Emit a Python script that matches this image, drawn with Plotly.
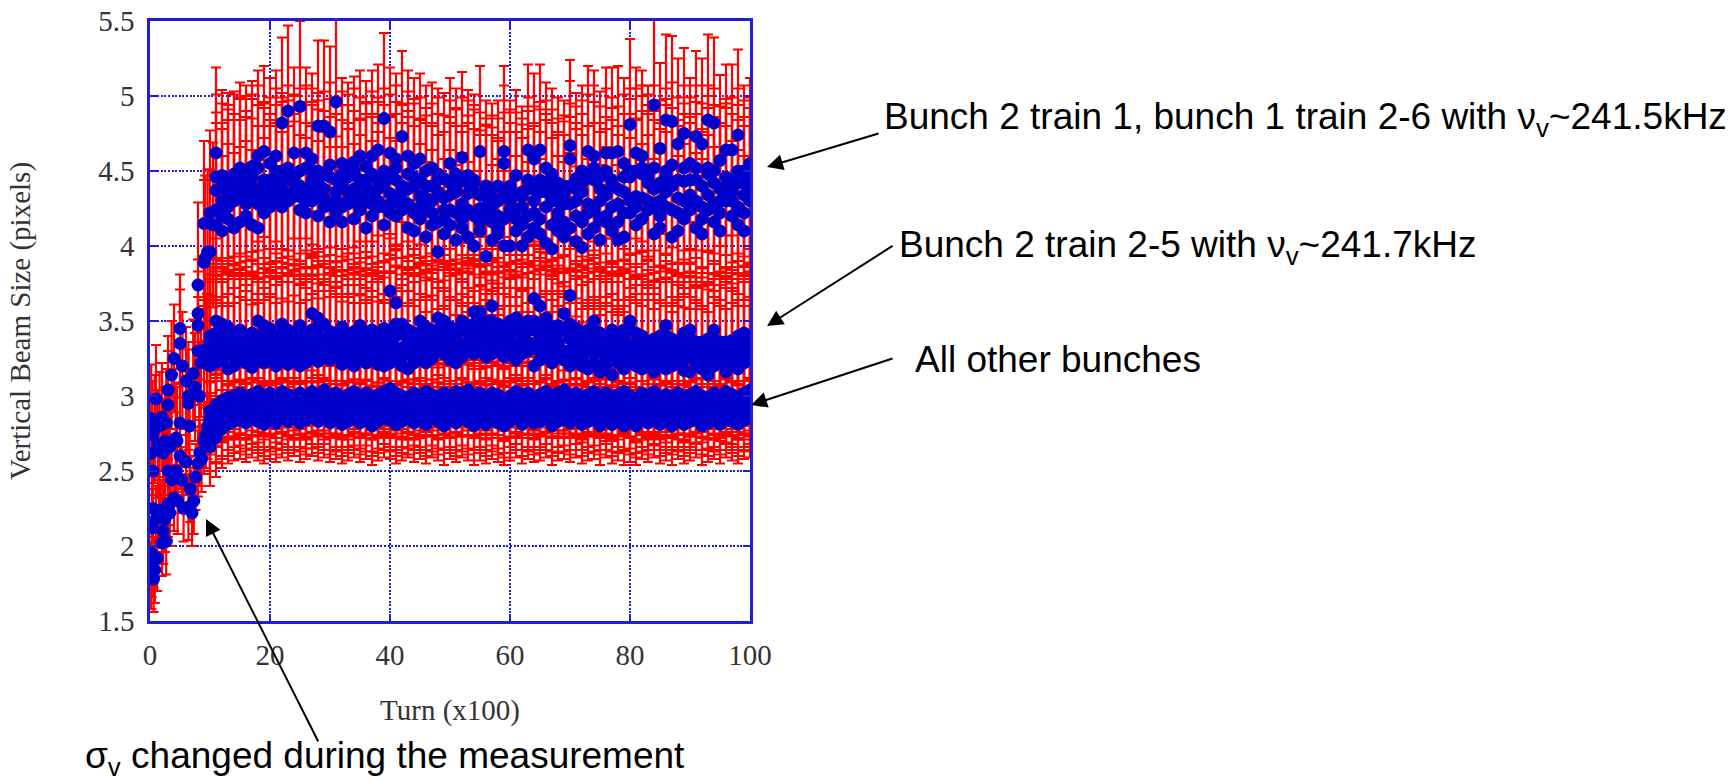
import plotly.graph_objects as go

turns = [0,1,2,3,4,5,6,7,8,9,10,11,12,13,14,15,16,17,18,19,20,21,22,23,24,25,26,27,28,29,30,
         31,32,33,34,35,36,37,38,39,40,41,42,43,44,45,46,47,48,49,50,51,52,53,54,55,56,57,58,59,60,
         61,62,63,64,65,66,67,68,69,70,71,72,73,74,75,76,77,78,79,80,81,82,83,84,85,86,87,88,89,90,
         91,92,93,94,95,96,97,98,99,100]

# Upper group, turns 11..100
upper_a = [4.62,4.47,4.45,4.44,4.52,4.50,4.53,4.60,4.63,4.55,
           4.60,4.82,4.90,4.62,4.93,4.62,4.58,4.80,4.80,4.76,
           4.96,4.55,4.52,4.56,4.60,4.53,4.60,4.64,4.85,4.62,
           4.58,4.73,4.60,4.55,4.58,4.50,4.52,4.48,4.45,4.55,
           4.48,4.59,4.47,4.44,4.63,4.40,4.38,4.40,4.63,4.40,
           4.47,4.36,4.64,4.58,4.64,4.52,4.48,4.42,4.40,4.67,
           4.45,4.50,4.63,4.60,4.46,4.62,4.62,4.63,4.55,4.81,
           4.62,4.60,4.50,4.94,4.65,4.84,4.83,4.68,4.75,4.55,
           4.73,4.68,4.84,4.82,4.57,4.64,4.64,4.74,4.50,4.55]
upper_b = [4.37,4.30,4.42,4.36,4.32,4.38,4.33,4.28,4.44,4.36,
           4.42,4.50,4.45,4.36,4.40,4.30,4.44,4.50,4.38,4.46,
           4.36,4.42,4.30,4.38,4.33,4.44,4.36,4.30,4.42,4.35,
           4.44,4.30,4.38,4.46,4.33,4.40,4.30,4.36,4.24,4.34,
           4.40,4.28,4.35,4.42,4.25,4.33,4.27,4.20,4.55,4.30,
           4.24,4.33,4.38,4.30,4.44,4.36,4.30,4.22,4.35,4.58,
           4.30,4.36,4.28,4.44,4.30,4.34,4.40,4.28,4.36,4.46,
           4.33,4.48,4.42,4.38,4.30,4.46,4.40,4.32,4.43,4.34,
           4.44,4.26,4.48,4.42,4.30,4.46,4.36,4.42,4.34,4.40]
upper_c = [4.14,4.10,4.18,4.12,4.16,4.20,4.14,4.12,4.22,4.30,
           4.32,4.26,4.30,4.33,4.24,4.22,4.30,4.20,4.26,4.16,
           4.23,4.16,4.28,4.18,4.24,4.12,4.20,4.26,4.14,4.22,
           4.20,4.24,4.12,4.10,4.18,4.06,4.14,3.96,4.08,4.14,
           4.04,4.12,4.06,4.00,4.10,3.93,4.04,4.08,4.00,4.00,
           4.10,4.00,4.06,4.12,4.08,4.02,3.98,4.10,4.06,4.12,
           4.03,3.99,4.08,4.12,4.04,4.16,4.10,4.04,4.06,4.22,
           4.14,4.18,4.24,4.08,4.12,4.26,4.06,4.10,4.18,4.26,
           4.12,4.08,4.24,4.16,4.10,4.30,4.20,4.14,4.10,4.30]
upper_d = [4.24,4.20,4.26,4.30,4.40,4.28,4.40,4.36,4.34,4.26,
           4.36,4.38,4.34,4.42,4.33,4.38,4.36,4.33,4.32,4.28,
           4.30,4.26,4.36,4.32,4.26,4.30,4.28,4.38,4.26,4.28,
           4.30,4.36,4.28,4.22,4.26,4.24,4.22,4.16,4.18,4.24,
           4.22,4.18,4.24,4.20,4.16,4.22,4.16,4.12,4.18,4.24,
           4.18,4.14,4.20,4.22,4.18,4.26,4.14,4.18,4.16,4.28,
           4.20,4.16,4.22,4.24,4.18,4.20,4.26,4.16,4.22,4.30,
           4.26,4.32,4.30,4.26,4.20,4.36,4.24,4.22,4.30,4.24,
           4.30,4.18,4.34,4.28,4.22,4.34,4.30,4.26,4.22,4.34]
upper_e = [4.46,4.40,4.36,4.48,4.44,4.45,4.46,4.52,4.40,4.44,
           4.50,4.44,4.52,4.46,4.50,4.52,4.50,4.42,4.48,4.54,
           4.44,4.48,4.46,4.50,4.44,4.40,4.48,4.44,4.50,4.46,
           4.52,4.40,4.48,4.40,4.44,4.32,4.40,4.44,4.32,4.42,
           4.36,4.44,4.42,4.36,4.34,4.26,4.32,4.30,4.34,4.36,
           4.34,4.26,4.44,4.38,4.36,4.42,4.36,4.30,4.28,4.40,
           4.38,4.42,4.46,4.52,4.38,4.50,4.44,4.38,4.46,4.50,
           4.50,4.52,4.46,4.52,4.42,4.50,4.54,4.44,4.52,4.44,
           4.52,4.40,4.52,4.50,4.38,4.40,4.44,4.50,4.42,4.44]

# Middle group, turns 10..100
mid_a = [3.40,3.50,3.48,3.46,3.42,3.44,3.40,3.42,3.50,3.47,
         3.45,3.40,3.48,3.44,3.42,3.47,3.40,3.55,3.52,3.48,
         3.43,3.42,3.46,3.40,3.43,3.47,3.42,3.44,3.40,3.45,
         3.70,3.62,3.48,3.44,3.42,3.50,3.46,3.44,3.52,3.50,
         3.46,3.44,3.50,3.47,3.56,3.56,3.50,3.60,3.48,3.45,
         3.50,3.52,3.48,3.50,3.65,3.60,3.52,3.46,3.47,3.55,
         3.67,3.45,3.42,3.44,3.50,3.42,3.40,3.44,3.42,3.44,
         3.50,3.42,3.40,3.36,3.38,3.40,3.47,3.38,3.36,3.42,
         3.44,3.36,3.35,3.38,3.44,3.36,3.34,3.37,3.40,3.42,3.40]
mid_b = [3.30,3.34,3.30,3.36,3.32,3.38,3.28,3.34,3.30,3.36,
         3.33,3.28,3.36,3.30,3.38,3.32,3.30,3.35,3.40,3.32,
         3.36,3.30,3.34,3.28,3.36,3.32,3.38,3.30,3.34,3.33,
         3.36,3.40,3.32,3.38,3.30,3.36,3.33,3.38,3.30,3.40,
         3.34,3.38,3.32,3.36,3.42,3.40,3.36,3.44,3.36,3.40,
         3.38,3.34,3.42,3.36,3.44,3.38,3.40,3.34,3.36,3.30,
         3.38,3.34,3.28,3.36,3.32,3.38,3.30,3.35,3.30,3.36,
         3.32,3.28,3.34,3.30,3.26,3.32,3.30,3.36,3.28,3.30,
         3.34,3.27,3.30,3.25,3.32,3.28,3.30,3.26,3.32,3.30,3.34]
mid_c = [3.20,3.22,3.24,3.18,3.20,3.24,3.22,3.19,3.26,3.22,
         3.24,3.20,3.23,3.21,3.25,3.20,3.22,3.26,3.23,3.28,
         3.24,3.26,3.21,3.24,3.20,3.25,3.22,3.24,3.21,3.20,
         3.22,3.24,3.20,3.18,3.22,3.26,3.22,3.25,3.30,3.28,
         3.24,3.22,3.26,3.30,3.28,3.32,3.26,3.28,3.30,3.26,
         3.30,3.24,3.28,3.30,3.20,3.24,3.28,3.22,3.26,3.24,
         3.20,3.23,3.20,3.18,3.22,3.16,3.20,3.14,3.22,3.18,
         3.24,3.20,3.18,3.22,3.16,3.22,3.18,3.20,3.24,3.17,
         3.16,3.22,3.18,3.14,3.20,3.22,3.16,3.20,3.18,3.22,3.24]
mid_d = [3.36,3.42,3.38,3.42,3.38,3.30,3.36,3.40,3.38,3.42,
         3.38,3.36,3.42,3.38,3.34,3.40,3.36,3.44,3.46,3.38,
         3.40,3.36,3.40,3.34,3.38,3.42,3.34,3.38,3.36,3.39,
         3.44,3.48,3.42,3.40,3.36,3.42,3.40,3.34,3.44,3.44,
         3.40,3.34,3.44,3.42,3.48,3.48,3.44,3.50,3.42,3.36,
         3.44,3.44,3.36,3.44,3.50,3.46,3.46,3.40,3.42,3.44,
         3.48,3.40,3.36,3.40,3.44,3.36,3.36,3.40,3.36,3.40,
         3.44,3.36,3.38,3.34,3.32,3.36,3.40,3.34,3.32,3.38,
         3.38,3.32,3.36,3.32,3.38,3.32,3.36,3.32,3.36,3.36,3.38]
mid_e = [3.26,3.28,3.26,3.28,3.26,3.30,3.26,3.28,3.24,3.30,
         3.28,3.24,3.30,3.26,3.32,3.26,3.26,3.30,3.32,3.26,
         3.30,3.28,3.28,3.26,3.30,3.28,3.30,3.26,3.28,3.27,
         3.28,3.32,3.26,3.30,3.26,3.32,3.28,3.32,3.34,3.34,
         3.30,3.30,3.28,3.34,3.36,3.36,3.32,3.36,3.34,3.32,
         3.34,3.28,3.36,3.34,3.32,3.30,3.34,3.28,3.32,3.27,
         3.30,3.28,3.24,3.30,3.28,3.30,3.25,3.28,3.26,3.30,
         3.28,3.24,3.26,3.26,3.22,3.28,3.24,3.28,3.26,3.24,
         3.28,3.24,3.24,3.20,3.26,3.25,3.24,3.23,3.26,3.26,3.28]

# Lower group, turns 10..100
low_a = [2.90,2.94,2.97,2.99,3.00,3.02,2.99,3.01,3.03,3.00,
         3.02,2.99,3.03,3.01,2.99,3.02,3.00,3.03,3.01,3.04,
         3.00,3.02,2.99,3.01,3.03,3.00,3.02,2.99,3.01,3.03,
         3.05,3.02,3.00,2.99,3.02,3.00,3.03,3.01,2.99,3.02,
         3.00,3.03,3.01,3.04,3.00,3.02,2.99,3.02,3.01,2.98,
         3.00,3.03,3.01,3.02,2.99,3.01,3.03,3.00,3.02,3.04,
         3.00,3.02,2.99,3.01,3.03,3.00,3.02,2.98,3.01,3.03,
         3.00,2.98,3.02,3.00,3.03,2.99,3.01,3.00,3.02,2.98,
         3.01,3.03,3.00,2.99,3.02,3.00,3.03,3.01,2.99,3.02,3.04]
low_b = [2.80,2.85,2.88,2.90,2.92,2.93,2.91,2.94,2.92,2.90,
         2.93,2.91,2.94,2.92,2.90,2.93,2.91,2.95,2.92,2.94,
         2.91,2.93,2.90,2.92,2.94,2.91,2.93,2.90,2.92,2.94,
         2.93,2.90,2.92,2.91,2.94,2.92,2.90,2.93,2.91,2.94,
         2.92,2.90,2.93,2.91,2.94,2.92,2.90,2.93,2.91,2.89,
         2.92,2.94,2.90,2.93,2.91,2.92,2.94,2.90,2.92,2.93,
         2.91,2.94,2.90,2.92,2.93,2.91,2.94,2.90,2.92,2.93,
         2.91,2.89,2.93,2.91,2.94,2.90,2.92,2.91,2.93,2.90,
         2.92,2.94,2.91,2.90,2.93,2.91,2.94,2.92,2.90,2.93,2.94]
low_c = [2.66,2.72,2.78,2.81,2.83,2.84,2.82,2.85,2.83,2.81,
         2.84,2.82,2.85,2.83,2.86,2.82,2.84,2.86,2.83,2.85,
         2.82,2.84,2.81,2.83,2.85,2.82,2.84,2.80,2.83,2.85,
         2.84,2.81,2.83,2.85,2.82,2.84,2.81,2.85,2.83,2.80,
         2.84,2.82,2.85,2.83,2.80,2.83,2.81,2.84,2.82,2.80,
         2.83,2.85,2.81,2.84,2.82,2.83,2.85,2.80,2.83,2.84,
         2.82,2.85,2.81,2.83,2.84,2.80,2.85,2.81,2.83,2.80,
         2.82,2.80,2.84,2.82,2.85,2.81,2.83,2.80,2.84,2.81,
         2.83,2.85,2.80,2.82,2.84,2.81,2.85,2.83,2.81,2.84,2.85]
low_d = [2.72,2.78,2.82,2.86,2.88,2.89,2.87,2.90,2.88,2.86,
         2.88,2.87,2.90,2.88,2.86,2.88,2.87,2.90,2.88,2.90,
         2.86,2.88,2.86,2.88,2.89,2.87,2.89,2.85,2.87,2.90,
         2.88,2.86,2.88,2.87,2.89,2.88,2.86,2.89,2.87,2.86,
         2.88,2.86,2.89,2.87,2.86,2.88,2.86,2.89,2.87,2.84,
         2.88,2.90,2.86,2.88,2.86,2.88,2.90,2.85,2.88,2.89,
         2.86,2.90,2.86,2.88,2.89,2.86,2.90,2.85,2.88,2.86,
         2.87,2.84,2.88,2.86,2.90,2.86,2.88,2.86,2.88,2.86,
         2.88,2.90,2.86,2.86,2.88,2.86,2.90,2.88,2.86,2.88,2.90]
low_e = [2.85,2.90,2.93,2.95,2.96,2.98,2.95,2.98,2.98,2.95,
         2.98,2.96,2.99,2.97,2.95,2.98,2.96,2.99,2.97,2.99,
         2.96,2.98,2.95,2.97,2.99,2.96,2.98,2.95,2.97,2.99,
         2.98,2.96,2.96,2.95,2.98,2.96,2.98,2.97,2.95,2.98,
         2.96,2.97,2.97,2.98,2.96,2.98,2.95,2.98,2.96,2.94,
         2.96,2.99,2.96,2.98,2.95,2.97,2.99,2.96,2.97,2.99,
         2.96,2.98,2.95,2.97,2.98,2.96,2.98,2.94,2.97,2.98,
         2.96,2.94,2.98,2.96,2.99,2.95,2.97,2.96,2.98,2.94,
         2.97,2.99,2.96,2.95,2.98,2.96,2.99,2.97,2.95,2.98,2.99]

# Start of the measurement
early_low_x = [0.2,0.3,0.3,0.4,0.5,0.6,0.8,1.0,1.2,1.5,1.8,2.0,2.2,2.5,2.7,3.0,3.0,3.3,3.6,4.0,4.3,4.6,5.0,5.3,5.6,6.0,6.4,6.7,7.0,7.3,7.6,8.0,8.3,8.6,9.0,9.3,9.6]
early_low_y = [1.80,1.88,1.95,2.12,2.25,1.78,1.84,2.18,1.92,2.24,2.22,2.02,2.10,2.18,2.03,2.28,2.26,2.22,2.44,2.32,2.50,2.30,2.60,2.44,2.25,2.56,2.26,2.38,2.22,2.30,2.46,2.55,2.62,2.58,2.70,2.74,2.80]
early_mid_x = [0.2,0.3,0.4,0.5,0.8,1.0,1.3,1.6,2.0,2.2,2.5,2.7,3.0,3.0,3.0,3.3,3.6,4.0,4.3,4.5,5.0,5.0,5.0,5.4,6.0,6.4,6.4,6.6,7.2,7.5,8.0,8.0,8.0,8.2,8.5,9.0,9.5]
early_mid_y = [2.85,2.62,2.74,2.50,2.78,2.98,2.68,2.80,2.86,2.62,2.70,2.82,3.04,2.94,2.50,2.66,3.14,3.25,2.72,2.70,3.45,3.35,2.82,3.20,3.10,3.00,2.95,2.80,3.15,3.06,3.55,3.47,3.30,3.00,3.22,3.28,3.32]
early_up_x = [8.0,9.0,9.2,9.6,10.0,9.0,10.0,10.5]
early_up_y = [3.74,3.89,3.92,3.96,3.96,4.15,4.22,4.14]

low_errs = [0.27, 0.24, 0.30, 0.22, 0.26]
mid_errs = [0.42, 0.55, 0.46, 0.50, 0.38]
upper_errs = [0.50, 0.58, 0.52, 0.55, 0.57]
early_low_err = 0.22
early_mid_err = 0.36

x_ticks = [0,20,40,60,80,100]
y_ticks = [1.5,2,2.5,3,3.5,4,4.5,5,5.5]
y_tick_text = ["1.5","2","2.5","3","3.5","4","4.5","5","5.5"]

xs, ys, errs = [], [], []
def add(xv, yv, e):
    xs.extend(xv); ys.extend(yv); errs.extend([e] * len(yv))

groups = [([low_a, low_e, low_b, low_d, low_c], low_errs),
          ([mid_c, mid_e, mid_b, mid_d, mid_a], mid_errs),
          ([upper_c, upper_d, upper_b, upper_e, upper_a], upper_errs)]
for series, group_errs in groups:
    for s, e in zip(series, group_errs):
        add(turns[len(turns) - len(s):], s, e)
add(early_low_x, early_low_y, early_low_err)
add(early_mid_x, early_mid_y, early_mid_err)
add(early_up_x, early_up_y, upper_errs[3])

BLUE = "#1f1fd6"
fig = go.Figure(go.Scatter(
    x=xs, y=ys, mode="markers",
    marker=dict(color="#0000cd", size=13, line=dict(width=0)),
    error_y=dict(type="data", array=errs, visible=True, color="#ff0000", thickness=2.2, width=5),
    showlegend=False, hoverinfo="skip",
))

L, T, W, H = 150, 21, 600, 600
def px(x): return (x - L) / W
def py(y): return 1 - (y - T) / H

def label(text, x, y, size=37):
    fig.add_annotation(text=text, x=px(x), y=py(y), xref="paper", yref="paper", showarrow=False,
                       xanchor="left", yanchor="middle", font=dict(family="Liberation Sans", size=size, color="black"))

def arrow(x0, y0, x1, y1, head=2):
    fig.add_annotation(text="", x=px(x1), y=py(y1), xref="paper", yref="paper",
                       ax=x0 - x1, ay=y0 - y1, axref="pixel", ayref="pixel", showarrow=True,
                       arrowhead=head, arrowsize=1.6, arrowwidth=2, arrowcolor="black")

label("Bunch 2 train 1, bunch 1 train 2-6 with ν<sub>v</sub>~241.5kHz", 882, 119)
label("Bunch 2 train 2-5 with ν<sub>v</sub>~241.7kHz", 897, 247)
label("All other bunches", 913, 359)
label("σ<sub>v</sub> changed during the measurement", 83, 758)
arrow(880, 133, 767, 167)
arrow(894, 245, 767, 326)
arrow(894, 358, 751, 405)
arrow(319, 743, 206, 519)

tickfont = dict(family="Liberation Serif", size=29, color="#333333")
fig.update_xaxes(range=[0, 100], tickvals=x_ticks, ticks="inside", ticklen=7, tickwidth=2, tickcolor=BLUE,
                 showline=True, linecolor=BLUE, linewidth=2.5, mirror="ticks", automargin=False,
                 showgrid=True, gridcolor=BLUE, gridwidth=1.5, griddash="2px,1.6px", zeroline=False,
                 tickfont=tickfont, ticklabelstandoff=6,
                 title=dict(text="Turn (x100)", font=tickfont, standoff=31))
fig.update_yaxes(range=[1.5, 5.5], tickvals=y_ticks, ticktext=y_tick_text, ticks="inside", ticklen=7, tickwidth=2, tickcolor=BLUE,
                 showline=True, linecolor=BLUE, linewidth=2.5, mirror="ticks", automargin=False,
                 showgrid=True, gridcolor=BLUE, gridwidth=1.5, griddash="2px,1.6px", zeroline=False,
                 tickfont=tickfont, ticklabelstandoff=7,
                 title=dict(text="Vertical Beam Size (pixels)", font=tickfont, standoff=60))
fig.update_layout(width=1733, height=781, autosize=False, paper_bgcolor="white", plot_bgcolor="white",
                  margin=dict(l=L, r=1733 - L - W, t=T, b=781 - T - H, pad=0))

fig.write_html("out.html", config={"displayModeBar": False},
               post_script="document.body.style.margin='0';document.body.style.overflow='hidden';")
